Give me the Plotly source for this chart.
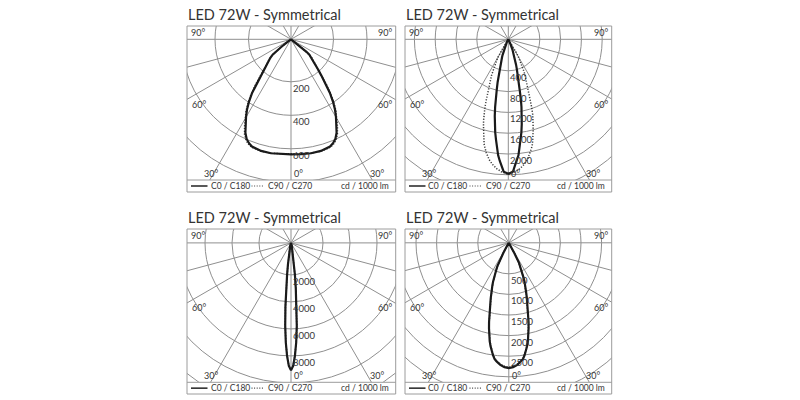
import numpy as np
import plotly.graph_objects as go

W, H = 800, 400
FONT = "Lato"

# ---------------- data ----------------
TITLE = "LED 72W - Symmetrical"
LEGEND_C0 = "C0 / C180"
LEGEND_C90 = "C90 / C270"
UNIT_TEXT = "cd / 1000 lm"
ANGLE_TEXT = ["90°", "60°", "30°", "0°"]

# panel 1 (top-left)
p1_angles = [0, 5, 10, 15, 20, 22, 24, 26, 28, 30, 32, 34, 36, 38, 40, 42, 44, 46, 48, 50, 51, 52, 53, 55, 60, 70, 90]
p1_c0 = [687, 688, 691, 690, 681, 669, 651, 621, 579, 537, 496, 448, 394, 334, 281, 239, 203, 185, 167, 143, 119, 72, 30, 9, 3, 0, 0]
p1_c90 = [684, 686, 690, 692, 686, 676, 660, 632, 591, 549, 507, 460, 405, 345, 290, 245, 208, 188, 169, 145, 120, 73, 30, 9, 3, 0, 0]
p1_rings = [200, 400, 600, 800]
p1_ring_labels = ["200", "400", "600"]

# panel 2 (top-right)
p2_angles = [0, 2, 3, 4, 5, 6, 7, 8, 9, 10, 11, 12, 13, 14, 15, 16, 17, 18, 19, 20, 22, 24, 26, 30, 40, 90]
p2_c0 = [2587, 2548, 2433, 2346, 2240, 2077, 1942, 1808, 1654, 1500, 1327, 1154, 981, 846, 692, 596, 510, 433, 375, 327, 212, 115, 67, 29, 10, 0]
p2_c90_angles = [0, 3, 5, 7, 9, 11, 12, 13, 14, 15, 16, 17, 18, 19, 20, 21, 22, 23, 24, 25, 26, 27, 28, 29, 30, 31, 32, 33, 35, 40, 50, 90]
p2_c90 = [2596, 2552, 2500, 2433, 2346, 2221, 2144, 2067, 1971, 1846, 1731, 1625, 1519, 1375, 1231, 1115, 1010, 913, 827, 760, 683, 596, 519, 452, 385, 288, 192, 125, 58, 19, 6, 0]
p2_rings = [400, 800, 1200, 1600, 2000, 2400, 2800, 3200]
p2_ring_labels = ["400", "800", "1200", "1600", "2000"]

# panel 3 (bottom-left)
p3_angles = [0, 1, 2, 3, 4, 5, 6, 7, 8, 9, 10, 12, 15, 20, 30, 90]
p3_c0 = [9430, 9110, 8370, 7370, 6150, 4740, 3410, 2370, 1630, 1070, 815, 445, 220, 75, 22, 0]
p3_c90 = [9400, 9090, 8350, 7350, 6130, 4720, 3400, 2360, 1620, 1060, 805, 435, 215, 75, 22, 0]
p3_rings = [2000, 4000, 6000, 8000, 10000, 12000]
p3_ring_labels = ["2000", "4000", "6000", "8000"]

# panel 4 (bottom-right)
p4_angles = [0, 2, 4, 6, 7, 8, 9, 10, 11, 12, 13, 14, 15, 16, 17, 18, 19, 20, 21, 22, 23, 24, 25, 26, 27, 28, 29, 30, 35, 90]
p4_c0 = [3040, 3020, 2970, 2890, 2840, 2755, 2660, 2550, 2430, 2295, 2135, 1980, 1820, 1675, 1530, 1420, 1310, 1215, 1115, 1020, 910, 815, 715, 630, 545, 290, 120, 50, 12, 0]
p4_c90 = [3020, 3000, 2950, 2870, 2820, 2735, 2640, 2530, 2410, 2275, 2115, 1960, 1800, 1655, 1510, 1400, 1290, 1195, 1095, 1000, 890, 795, 695, 610, 525, 280, 115, 48, 12, 0]
p4_rings = [500, 1000, 1500, 2000, 2500, 3000, 3500, 4000]
p4_ring_labels = ["500", "1000", "1500", "2000", "2500"]

SPOKES = [0, 30, 60, 75, 90, 120, 150, 180]

# ---------------- layout / style (pixel geometry) ----------------
panels = [
    dict(angles=p1_angles, c0=p1_c0, a90=p1_angles, c90=p1_c90, rings=p1_rings, labels=p1_ring_labels,
         left=187, right=395.7, top=26, sep=180, bottom=192, cx=291, cy=39.3, k=33.5 / 200, r0=9),
    dict(angles=p2_angles, c0=p2_c0, a90=p2_c90_angles, c90=p2_c90, rings=p2_rings, labels=p2_ring_labels,
         left=405, right=611.7, top=26, sep=180, bottom=192, cx=508.3, cy=39.3, k=20.8 / 400, r0=10.7),
    dict(angles=p3_angles, c0=p3_c0, a90=p3_angles, c90=p3_c90, rings=p3_rings, labels=p3_ring_labels,
         left=187, right=395.7, top=229, sep=382.3, bottom=394, cx=291, cy=242.9, k=27 / 2000, r0=5),
    dict(angles=p4_angles, c0=p4_c0, a90=p4_angles, c90=p4_c90, rings=p4_rings, labels=p4_ring_labels,
         left=405, right=611.7, top=229, sep=382.3, bottom=394, cx=508.8, cy=242.8, k=20.6 / 500, r0=10.4),
]

GRID = "#8f8f8f"
BOX = "#9c9c9c"
TXT = "#363636"


def px(x):
    return x / W


def py(y):
    return 1 - y / H


def full_curve(angles, vals):
    a = np.array(angles, float)
    v = np.array(vals, float)
    th = np.concatenate([-a[::-1], a[1:]])
    vv = np.concatenate([v[::-1], v[1:]])
    t = np.radians(th)
    return vv * np.sin(t), -vv * np.cos(t)


fig = go.Figure()
shapes = []
annotations = []
layout_axes = {}

for i, p in enumerate(panels, start=1):
    xa = "x" if i == 1 else f"x{i}"
    ya = "y" if i == 1 else f"y{i}"
    k = p["k"]
    layout_axes["xaxis" if i == 1 else f"xaxis{i}"] = dict(
        domain=[px(p["left"]), px(p["right"])],
        range=[(p["left"] - p["cx"]) / k, (p["right"] - p["cx"]) / k],
        visible=False, fixedrange=True, anchor=ya)
    layout_axes["yaxis" if i == 1 else f"yaxis{i}"] = dict(
        domain=[py(p["sep"]), py(p["top"])],
        range=[-(p["sep"] - p["cy"]) / k, (p["cy"] - p["top"]) / k],
        visible=False, fixedrange=True, anchor=xa)

    off = p["r0"] / k
    # rings
    for rv in p["rings"]:
        R = rv + off
        shapes.append(dict(type="circle", xref=xa, yref=ya, x0=-R, y0=-R, x1=R, y1=R,
                           line=dict(color=GRID, width=1), layer="below"))
    # spokes
    L = 400 / k
    for s in SPOKES:
        for sg in ([1] if s in (0, 180) else [1, -1]):
            t = np.radians(sg * s)
            shapes.append(dict(type="line", xref=xa, yref=ya, x0=0, y0=0,
                               x1=L * np.sin(t), y1=-L * np.cos(t),
                               line=dict(color=GRID, width=1), layer="below"))
    # ring labels
    for rv, lab in zip(p["rings"], p["labels"]):
        annotations.append(dict(xref=xa, yref=ya, x=0, y=-(rv + off), text=lab, showarrow=False,
                                xanchor="left", yanchor="middle", xshift=0, yshift=-6.5,
                                font=dict(family=FONT, size=9.5, color=TXT)))

    # curves
    x90, y90 = full_curve(p["a90"], p["c90"])
    fig.add_trace(go.Scatter(x=x90, y=y90, xaxis=xa, yaxis=ya, mode="lines", showlegend=False,
                             line=dict(color="#3a3a3a", width=1.5, dash="1.2px,1.6px"), hoverinfo="skip"))
    x0, y0 = full_curve(p["angles"], p["c0"])
    fig.add_trace(go.Scatter(x=x0, y=y0, xaxis=xa, yaxis=ya, mode="lines", showlegend=False,
                             line=dict(color="#1a1a1a", width=2.2), hoverinfo="skip"))

    # box and legend separator
    shapes.append(dict(type="rect", xref="paper", yref="paper", x0=px(p["left"]), x1=px(p["right"]),
                       y0=py(p["bottom"]), y1=py(p["top"]), line=dict(color=BOX, width=1)))
    shapes.append(dict(type="line", xref="paper", yref="paper", x0=px(p["left"]), x1=px(p["right"]),
                       y0=py(p["sep"]), y1=py(p["sep"]), line=dict(color=BOX, width=1)))

    # title
    annotations.append(dict(xref="paper", yref="paper", x=px(p["left"] - 1), y=py(p["top"] - 11.5),
                            text=TITLE, showarrow=False, xanchor="left", yanchor="middle",
                            font=dict(family=FONT, size=14.5, color="#333333")))

    # angle labels
    angfont = dict(family=FONT, size=9, color=TXT)
    ycenter = p["cy"]
    annotations += [
        dict(xref="paper", yref="paper", x=px(p["left"] + 2), y=py(ycenter - 7), text=ANGLE_TEXT[0],
             showarrow=False, xanchor="left", yanchor="middle", font=angfont),
        dict(xref="paper", yref="paper", x=px(p["right"] - 2), y=py(ycenter - 7), text=ANGLE_TEXT[0],
             showarrow=False, xanchor="right", yanchor="middle", font=angfont),
        dict(xref="paper", yref="paper", x=px(p["left"] + 3), y=py(ycenter + 65), text=ANGLE_TEXT[1],
             showarrow=False, xanchor="left", yanchor="middle", font=angfont),
        dict(xref="paper", yref="paper", x=px(p["right"] - 2), y=py(ycenter + 65), text=ANGLE_TEXT[1],
             showarrow=False, xanchor="right", yanchor="middle", font=angfont),
        dict(xref="paper", yref="paper", x=px(p["left"] + 15), y=py(p["sep"] - 7), text=ANGLE_TEXT[2],
             showarrow=False, xanchor="left", yanchor="middle", font=angfont),
        dict(xref="paper", yref="paper", x=px(p["right"] - 10), y=py(p["sep"] - 7), text=ANGLE_TEXT[2],
             showarrow=False, xanchor="right", yanchor="middle", font=angfont),
        dict(xref="paper", yref="paper", x=px(p["cx"] + 1), y=py(p["sep"] - 7), text=ANGLE_TEXT[3],
             showarrow=False, xanchor="left", yanchor="middle", font=angfont),
    ]

    # legend strip
    ly = (p["sep"] + p["bottom"]) / 2
    shapes.append(dict(type="line", xref="paper", yref="paper", x0=px(p["left"] + 4), x1=px(p["left"] + 20.5),
                       y0=py(ly), y1=py(ly), line=dict(color="#222222", width=1.5)))
    shapes.append(dict(type="line", xref="paper", yref="paper", x0=px(p["left"] + 64.5), x1=px(p["left"] + 77.5),
                       y0=py(ly), y1=py(ly), line=dict(color="#444444", width=1.2, dash="1px,1.6px")))
    legfont = dict(family=FONT, size=8.5, color=TXT)
    annotations += [
        dict(xref="paper", yref="paper", x=px(p["left"] + 21.5), y=py(ly), text=LEGEND_C0, showarrow=False,
             xanchor="left", yanchor="middle", font=legfont),
        dict(xref="paper", yref="paper", x=px(p["left"] + 78.5), y=py(ly), text=LEGEND_C90, showarrow=False,
             xanchor="left", yanchor="middle", font=legfont),
        dict(xref="paper", yref="paper", x=px(p["right"] - 5), y=py(ly), text=UNIT_TEXT, showarrow=False,
             xanchor="right", yanchor="middle", font=legfont),
    ]

fig.update_layout(width=W, height=H, margin=dict(l=0, r=0, t=0, b=0),
                  paper_bgcolor="white", plot_bgcolor="white",
                  shapes=shapes, annotations=annotations, **layout_axes)
fig.write_html("out.html", config={"displayModeBar": False},
               post_script="document.body.style.margin='0px';document.body.style.padding='0px';")
